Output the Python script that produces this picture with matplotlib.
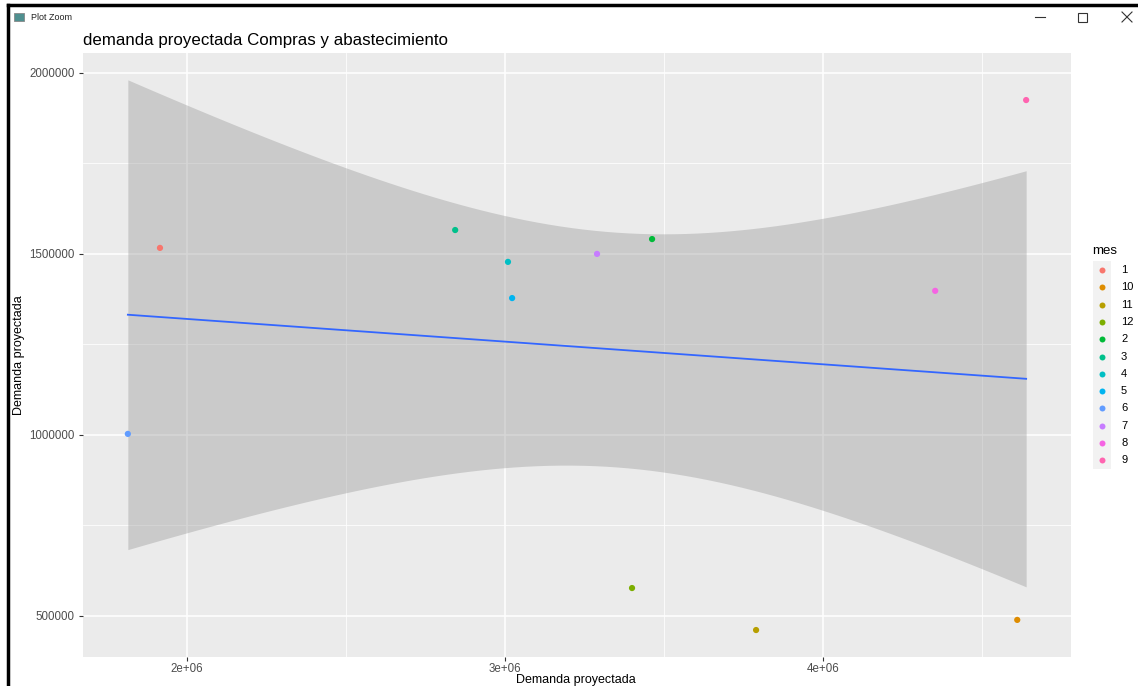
import numpy as np
import matplotlib

matplotlib.use("Agg")
import matplotlib.pyplot as plt
from matplotlib.lines import Line2D
from matplotlib.patches import Rectangle

# demanda proyectada por mes
mes = ["1", "6", "3", "4", "5", "7", "2", "12", "11", "10", "8", "9"]
demanda_x = [1915000, 1814000, 2843000, 3009000, 3022000, 3289000,
             3462000, 3399000, 3789000, 4610000, 4352000, 4638000]
demanda_y = [1516600, 1002800, 1566000, 1478000, 1378000, 1500000,
             1541000, 577000, 461000, 489000, 1398000, 1925000]

# factor levels (ggplot orders them as text) and the default hue palette
niveles = ["1", "10", "11", "12", "2", "3", "4", "5", "6", "7", "8", "9"]
colores = ["#F8766D", "#DE8C00", "#B79F00", "#7CAE00", "#00BA38", "#00C08B",
           "#00BFC4", "#00B4F0", "#619CFF", "#C77CFF", "#F564E3", "#FF64B0"]
color_de = dict(zip(niveles, colores))

T_975_DF10 = 2.228139  # t quantile for the 95% band, n - 2 = 10

W, H = 1138, 686
FONT = ["Liberation Sans", "DejaVu Sans"]


def fx(px):
    return px / W


def fy(py):
    return 1 - py / H


x = np.array(demanda_x, dtype=float)
y = np.array(demanda_y, dtype=float)

# lm fit with confidence band (geom_smooth(method = "lm"))
n = len(x)
slope, intercept = np.polyfit(x, y, 1)
resid = y - (intercept + slope * x)
s = np.sqrt((resid ** 2).sum() / (n - 2))
sxx = ((x - x.mean()) ** 2).sum()
grid = np.linspace(x.min(), x.max(), 80)
fit = intercept + slope * grid
half = T_975_DF10 * s * np.sqrt(1 / n + (grid - x.mean()) ** 2 / sxx)

fig = plt.figure(figsize=(W / 100, H / 100), dpi=100)
fig.patch.set_facecolor("white")

# window frame
fig.add_artist(Line2D([fx(8), 1], [fy(5), fy(5)], color="black", lw=2.5,
                      transform=fig.transFigure))
fig.add_artist(Line2D([fx(8), fx(8)], [fy(5), 0], color="black", lw=2.5,
                      transform=fig.transFigure))
fig.add_artist(Rectangle((fx(14), fy(21)), 10 / W, 8 / H, facecolor="#4F8F8F",
                         edgecolor="#888888", lw=0.6, transform=fig.transFigure))
fig.text(fx(31), fy(17), "Plot Zoom", fontsize=6.5, family=FONT,
         color="#222222", va="center", ha="left")
fig.add_artist(Line2D([fx(1035), fx(1045)], [fy(17), fy(17)], color="#333333",
                      lw=0.8, transform=fig.transFigure))
fig.add_artist(Rectangle((fx(1078), fy(22)), 9 / W, 9 / H, facecolor="none",
                         edgecolor="#333333", lw=0.8, transform=fig.transFigure))
fig.add_artist(Line2D([fx(1122), fx(1132)], [fy(12), fy(22)], color="#333333",
                      lw=0.8, transform=fig.transFigure))
fig.add_artist(Line2D([fx(1122), fx(1132)], [fy(22), fy(12)], color="#333333",
                      lw=0.8, transform=fig.transFigure))

# plot panel
left, right, top, bottom = 83, 1071, 53, 657
ax = fig.add_axes([fx(left), fy(bottom), (right - left) / W, (bottom - top) / H])
ax.set_facecolor("#EBEBEB")
for sp in ax.spines.values():
    sp.set_visible(False)

ax.set_xlim(1.673e6, 4.779e6)
ax.set_ylim(3.865e5, 2.055e6)
ax.set_xticks([2e6, 3e6, 4e6])
ax.set_xticklabels(["2e+06", "3e+06", "4e+06"])
ax.set_xticks([2.5e6, 3.5e6, 4.5e6], minor=True)
ax.set_yticks([500000, 1000000, 1500000, 2000000])
ax.set_yticklabels(["500000", "1000000", "1500000", "2000000"])
ax.set_yticks([750000, 1250000, 1750000], minor=True)
ax.grid(which="major", color="white", lw=1.1)
ax.grid(which="minor", color="white", lw=0.55)
ax.set_axisbelow(True)
ax.tick_params(which="major", length=3, width=0.8, color="#333333",
               labelsize=8.3, labelcolor="#4D4D4D", pad=3)
ax.tick_params(axis="x", which="major", pad=1.5)
ax.tick_params(which="minor", length=0)
for lab in ax.get_xticklabels() + ax.get_yticklabels():
    lab.set_family(FONT)

ax.fill_between(grid, fit - half, fit + half, color="#999999", alpha=0.4,
                lw=0, zorder=2)
ax.plot(grid, fit, color="#3366FF", lw=1.3, zorder=3)
ax.scatter(x, y, c=[color_de[m] for m in mes], s=20, lw=0, zorder=4)

# axis titles and plot title
fig.text(fx(576), fy(680), "Demanda proyectada", fontsize=9, family=FONT,
         color="black", va="center", ha="center")
fig.text(fx(19), fy(355), "Demanda proyectada", fontsize=9, family=FONT,
         color="black", va="center", ha="center", rotation=90)
fig.text(fx(83), fy(41), "demanda proyectada Compras y abastecimiento",
         fontsize=12.2, family=FONT, color="black", va="center", ha="left")

# legend "mes"
fig.text(fx(1092), fy(251), "mes", fontsize=9.5, family=FONT, va="center",
         ha="left")
step = 17.3
y0 = 270
fig.add_artist(Rectangle((fx(1093), fy(y0 - step / 2 + step * len(niveles))),
                         18 / W, step * len(niveles) / H, facecolor="#F2F2F2",
                         edgecolor="none", transform=fig.transFigure))
for i, (lvl, col) in enumerate(zip(niveles, colores)):
    yy = y0 + i * step
    fig.add_artist(Line2D([fx(1102)], [fy(yy)], marker="o", markersize=4.3,
                          markerfacecolor=col, markeredgewidth=0,
                          transform=fig.transFigure))
    fig.text(fx(1121), fy(yy), lvl, fontsize=8, family=FONT, va="center",
             ha="left")

fig.savefig("out.png", dpi=100)
